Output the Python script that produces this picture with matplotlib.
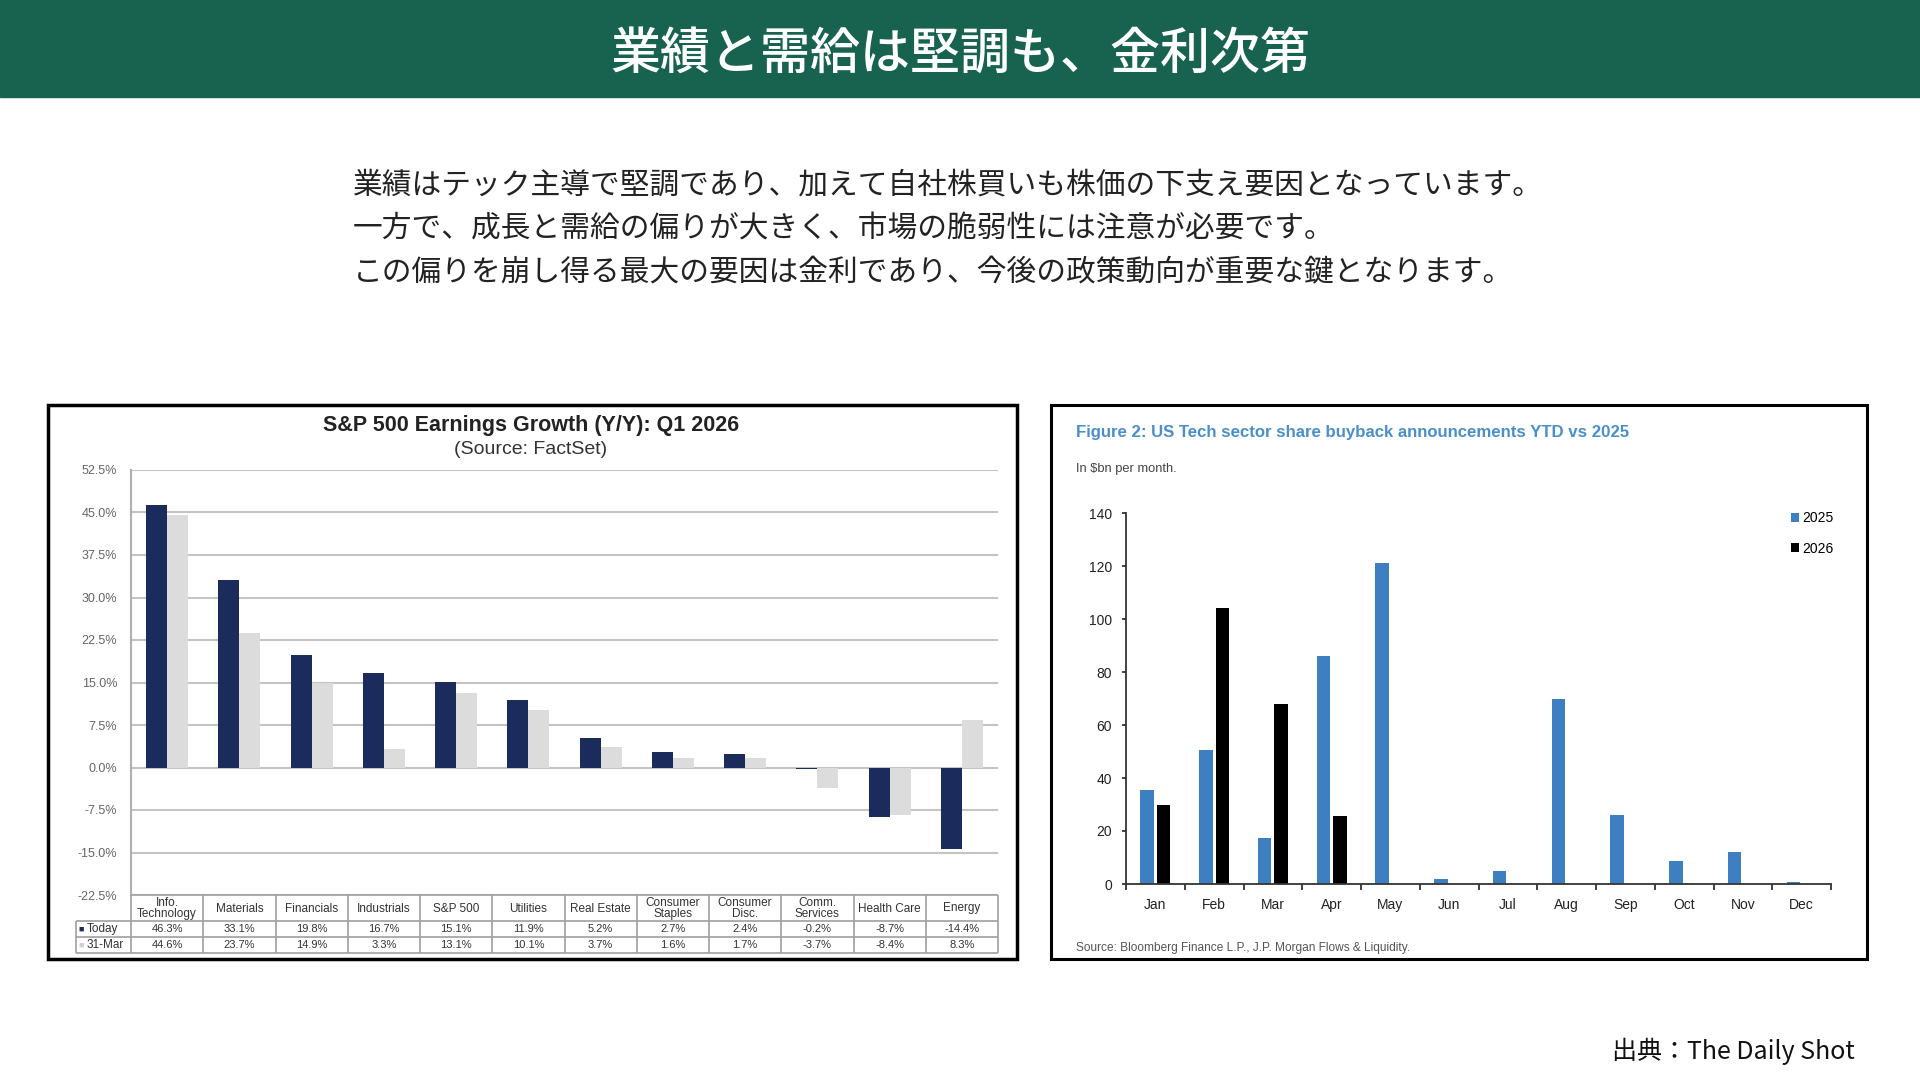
import matplotlib
matplotlib.use("Agg")
import matplotlib.pyplot as plt
import numpy as np
from matplotlib.patches import Rectangle

plt.rcParams["font.family"] = ["Liberation Sans", "DejaVu Sans"]
JP = ["Noto Sans CJK JP", "DejaVu Sans"]

# ---- データ ----
title = "業績と需給は堅調も、金利次第"
body = [
    "業績はテック主導で堅調であり、加えて自社株買いも株価の下支え要因となっています。",
    "一方で、成長と需給の偏りが大きく、市場の脆弱性には注意が必要です。",
    "この偏りを崩し得る最大の要因は金利であり、今後の政策動向が重要な鍵となります。",
]
footer = "出典：The Daily Shot"

sectors = ["Info.\nTechnology", "Materials", "Financials", "Industrials", "S&P 500",
           "Utilities", "Real Estate", "Consumer\nStaples", "Consumer\nDisc.",
           "Comm.\nServices", "Health Care", "Energy"]
today = [46.3, 33.1, 19.8, 16.7, 15.1, 11.9, 5.2, 2.7, 2.4, -0.2, -8.7, -14.4]
mar31 = [44.6, 23.7, 14.9, 3.3, 13.1, 10.1, 3.7, 1.6, 1.7, -3.7, -8.4, 8.3]
row_names = ["Today", "31-Mar"]
pct_ticks = np.arange(-22.5, 52.6, 7.5)

months = ["Jan", "Feb", "Mar", "Apr", "May", "Jun",
          "Jul", "Aug", "Sep", "Oct", "Nov", "Dec"]
buyback_2025 = [35.5, 50.5, 17.5, 86, 121, 2, 5, 70, 26, 8.5, 12, 0.8]
buyback_2026 = [30, 104, 68, 25.5]
bb_ticks = np.arange(0, 141, 20)

NAVY = "#1b2b5c"
LGRAY = "#dcdcdc"
BLUE = "#3d7fc0"

W, H = 1920, 1080
def fx(x):
    return x / W
def fy(y):
    return 1 - y / H

fig = plt.figure(figsize=(19.2, 10.8), dpi=100)

# ヘッダー帯
fig.patches.append(Rectangle((0, fy(97)), 1, 97 / H, transform=fig.transFigure,
                             color="#17634f", zorder=0))
fig.text(0.5, fy(55), title, color="white", fontsize=36, ha="center", va="center",
         family=JP, fontweight="medium")

# 本文
for i, line in enumerate(body):
    fig.text(fx(353), fy(185 + 44 * i), line, fontsize=21.4, va="center",
             color="#222222", family=JP)

fig.text(fx(1855), fy(1051), footer, fontsize=18, ha="right", va="center",
         color="#111111", family=JP)

# ---- 左: S&P 500 Earnings Growth ----
fig.patches.append(Rectangle((fx(48), fy(959)), (1017 - 48) / W, (959 - 405) / H,
                             transform=fig.transFigure, fill=False,
                             edgecolor="black", lw=2.5))
fig.text(fx(531), fy(425), "S&P 500 Earnings Growth (Y/Y): Q1 2026", fontsize=15.5,
         fontweight="bold", ha="center", va="center", color="#222222")
fig.text(fx(531), fy(449), "(Source: FactSet)", fontsize=14, ha="center",
         va="center", color="#333333")

ax1 = fig.add_axes([fx(131), fy(895), (998 - 131) / W, (895 - 470) / H])
x = np.arange(len(sectors))
ax1.bar(x - 0.145, today, 0.29, color=NAVY, zorder=3)
ax1.bar(x + 0.145, mar31, 0.29, color=LGRAY, zorder=2)
ax1.set_xlim(-0.5, len(sectors) - 0.5)
ax1.set_ylim(-22.5, 52.5)
ax1.set_yticks(pct_ticks)
ax1.set_yticklabels([f"{t:.1f}%" for t in pct_ticks])
ax1.set_xticks([])
ax1.grid(axis="y", color="#c4c4c4", lw=1.5)
ax1.set_axisbelow(True)
for s in ["top", "right", "bottom"]:
    ax1.spines[s].set_visible(False)
ax1.spines["left"].set_color("#b0b0b0")
ax1.spines["left"].set_linewidth(1.5)
ax1.tick_params(axis="y", length=0, pad=10, labelsize=9, labelcolor="#666666")

# 下の表
axt = fig.add_axes([fx(131), fy(953), (998 - 131) / W, (953 - 895) / H])
axt.set_xlim(-0.5, len(sectors) - 0.5)
axt.set_ylim(58, 0)
axt.axis("off")
lab_left = -1.26
edge_c = "#a0a0a0"
axt.hlines([0], -0.5, len(sectors) - 0.5, color=edge_c, lw=1.2, clip_on=False)
axt.hlines([26, 42, 58], lab_left, len(sectors) - 0.5, color=edge_c, lw=1.2,
           clip_on=False)
axt.vlines(np.arange(-0.5, len(sectors), 1), 0, 58, color=edge_c, lw=1.2,
           clip_on=False)
axt.vlines([lab_left], 26, 58, color=edge_c, lw=1.2, clip_on=False)
for i, name in enumerate(sectors):
    axt.text(i, 13.5, name, ha="center", va="center", fontsize=8.5,
             linespacing=0.9, color="#333333")
    axt.text(i, 34, f"{today[i]:.1f}%", ha="center", va="center", fontsize=8,
             color="#333333")
    axt.text(i, 50, f"{mar31[i]:.1f}%", ha="center", va="center", fontsize=8,
             color="#333333")
for yy, name, c in zip([34, 50], row_names, [NAVY, "#cfcfcf"]):
    axt.text(lab_left + 0.04, yy, "■", ha="left", va="center", fontsize=6.5,
             color=c, clip_on=False)
    axt.text(lab_left + 0.15, yy, name, ha="left", va="center", fontsize=8.5,
             color="#333333", clip_on=False)

# ---- 右: US Tech buyback ----
fig.patches.append(Rectangle((fx(1051), fy(959)), (1867 - 1051) / W, (959 - 405) / H,
                             transform=fig.transFigure, fill=False,
                             edgecolor="black", lw=2.2))
fig.text(fx(1076), fy(433), "Figure 2: US Tech sector share buyback announcements YTD vs 2025",
         fontsize=12.1, fontweight="bold", va="center", color="#4a8fc9")
fig.text(fx(1076), fy(469), r"In \$bn per month.", fontsize=9.3, va="center",
         color="#444444")
fig.text(fx(1076), fy(948), "Source: Bloomberg Finance L.P., J.P. Morgan Flows & Liquidity.",
         fontsize=8.6, va="center", color="#555555")

ax2 = fig.add_axes([fx(1126), fy(884), (1831 - 1126) / W, (884 - 513) / H])
m = np.arange(len(months))
ax2.bar(m - 0.14, buyback_2025, 0.23, color=BLUE, label="2025")
ax2.bar(np.arange(len(buyback_2026)) + 0.14, buyback_2026, 0.23, color="black",
        label="2026")
ax2.set_xlim(-0.5, len(months) - 0.5)
ax2.set_ylim(0, 140)
ax2.set_yticks(bb_ticks)
ax2.set_xticks(m)
ax2.set_xticklabels(months)
ax2.set_xticks(np.arange(-0.5, len(months), 1), minor=True)
for s in ["top", "right"]:
    ax2.spines[s].set_visible(False)
for s in ["left", "bottom"]:
    ax2.spines[s].set_color("#333333")
    ax2.spines[s].set_linewidth(1.3)
ax2.tick_params(axis="x", which="major", length=0, pad=10, labelsize=10,
                labelcolor="#222222")
ax2.tick_params(axis="x", which="minor", length=4, width=1.3, color="#333333")
ax2.tick_params(axis="y", length=3, width=1.3, color="#333333", pad=7,
                labelsize=10, labelcolor="#222222")
ax2.legend(loc="upper left", bbox_to_anchor=(fx(1791), fy(511)),
           bbox_transform=fig.transFigure, frameon=False, fontsize=10,
           handlelength=0.6, handleheight=0.6, handletextpad=0.2,
           labelspacing=1.2, borderpad=0, borderaxespad=0)

fig.savefig("out.png", dpi=100)
